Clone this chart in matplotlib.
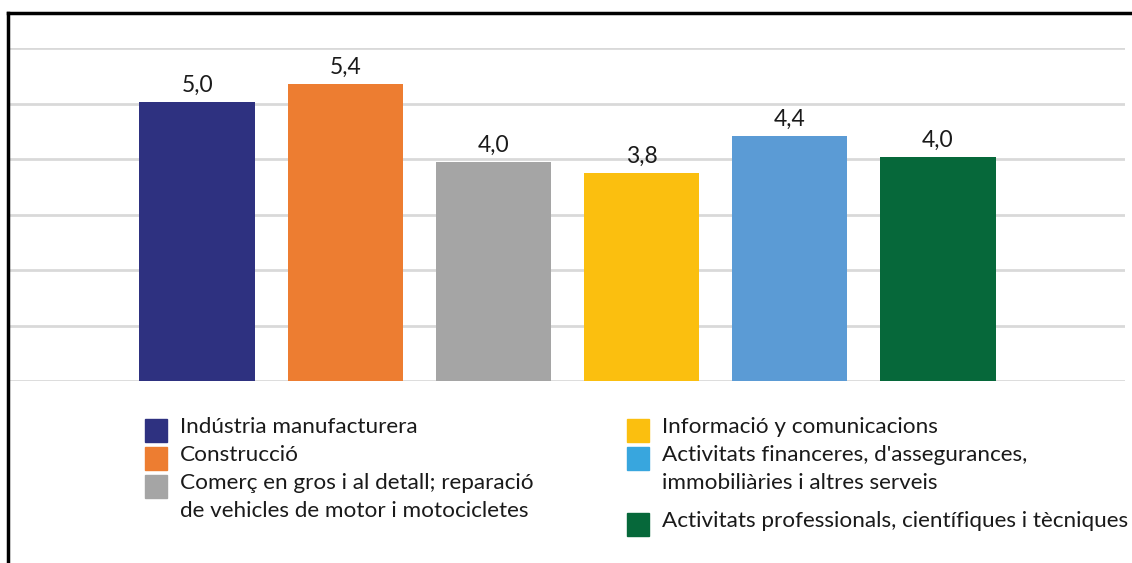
import numpy as np
import matplotlib
matplotlib.use('Agg')
import matplotlib.pyplot as plt
from matplotlib.patches import Rectangle
from matplotlib.lines import Line2D

plt.rcParams['font.family'] = ['Lato', 'DejaVu Sans']

sectors = ['Indústria manufacturera',
           'Construcció',
           'Comerç en gros i al detall; reparació\nde vehicles de motor i motocicletes',
           'Informació y comunicacions',
           "Activitats financeres, d'assegurances,\nimmobiliàries i altres serveis",
           'Activitats professionals, científiques i tècniques']
values = [5.03, 5.35, 3.95, 3.74, 4.41, 4.04]
value_labels = ['5,0', '5,4', '4,0', '3,8', '4,4', '4,0']
bar_colours = ['#2E3180', '#ED7D31', '#A5A5A5', '#FBBF0F', '#5B9BD5', '#06683A']
legend_colours = ['#2E3180', '#ED7D31', '#A5A5A5', '#FBBF0F', '#38A6DE', '#06683A']

W, H = 1132, 563
fig = plt.figure(figsize=(W / 100, H / 100), dpi=100)

def fx(px):
    return px / W

def fy(py):
    return 1 - py / H

ax = fig.add_axes([fx(10), fy(381), fx(1125) - fx(10), fy(48) - fy(381)])
x = np.arange(len(values))
ax.bar(x, values, width=0.78, color=bar_colours, zorder=3)
for xi, v, lab in zip(x, values, value_labels):
    ax.text(xi, v + 0.11, lab, ha='center', va='bottom', fontsize=16.5, color='#1a1a1a')

ax.set_xlim(-1.264, 6.264)
ax.set_ylim(0, 6)
ax.set_yticks(np.arange(0, 7, 1))
ax.grid(True, axis='y', color='#D9D9D9', linewidth=2)
ax.tick_params(left=False, bottom=False, labelleft=False, labelbottom=False)
for s in ax.spines.values():
    s.set_visible(False)

# frame round the chart (only top and left inside the crop)
fig.add_artist(Line2D([fx(8), fx(8)], [fy(13), 0], transform=fig.transFigure, color='black', linewidth=2.5))
fig.add_artist(Line2D([fx(8), 1], [fy(13), fy(13)], transform=fig.transFigure, color='black', linewidth=2.5))

# legend, two columns
sq_x = [145, 145, 145, 627, 627, 627]
sq_y = [419, 447, 475, 419, 447, 513]
for i in range(len(sectors)):
    fig.add_artist(Rectangle((fx(sq_x[i]), fy(sq_y[i] + 23)), fx(22), 23 / H,
                             transform=fig.transFigure, color=legend_colours[i]))
    fig.text(fx(sq_x[i] + 35), fy(sq_y[i] - 2), sectors[i], ha='left', va='top',
             fontsize=16.2, color='#1a1a1a', linespacing=1.52)

fig.savefig('out.png', dpi=100)
